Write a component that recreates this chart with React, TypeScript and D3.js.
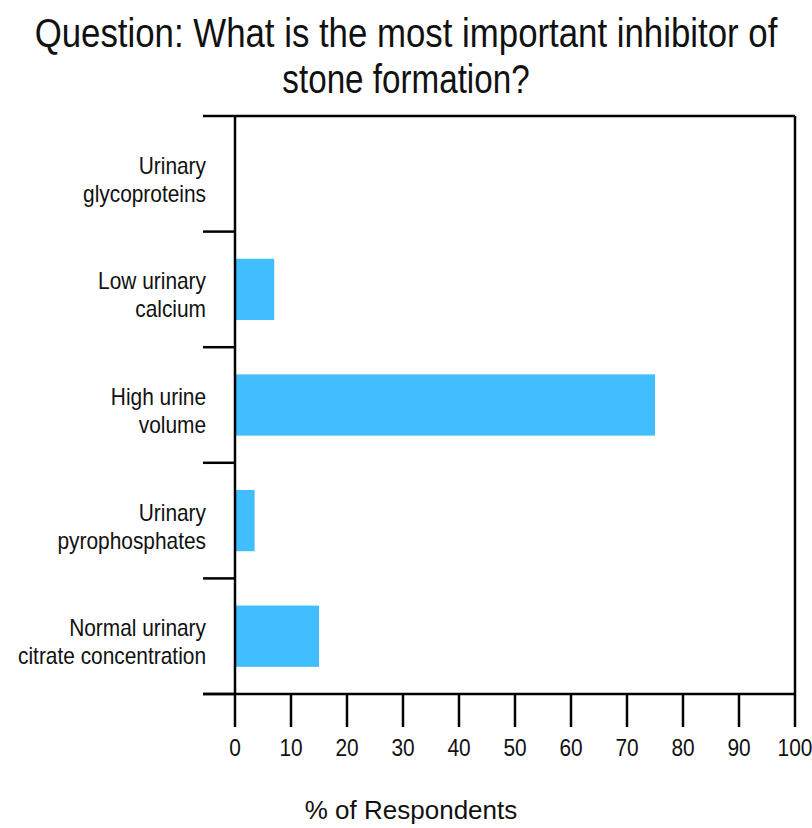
import React from "react";
import * as d3 from "d3";

const titleLines = ["Question: What is the most important inhibitor of", "stone formation?"];
const categories = [
  ["Urinary", "glycoproteins"],
  ["Low urinary", "calcium"],
  ["High urine", "volume"],
  ["Urinary", "pyrophosphates"],
  ["Normal urinary", "citrate concentration"],
];
const values = [0, 7, 75, 3.5, 15];
const xTicks = [0, 10, 20, 30, 40, 50, 60, 70, 80, 90, 100];
const xLabel = "% of Respondents";

const W = 812;
const H = 828;
const margin = { left: 235, right: 17, top: 116, bottom: 134 };
const FONT = "'Liberation Sans', Arial, sans-serif";
const SX = 0.87;
const titleScale = [0.87, 0.83];

function NText({ x, y, sx = SX, size, anchor = "middle", children }: any) {
  return (
    <g transform={`translate(${x},${y}) scale(${sx},1)`}>
      <text x={0} y={0} textAnchor={anchor} fontSize={size} fill="#111">
        {children}
      </text>
    </g>
  );
}

export default function App() {
  const x = d3.scaleLinear().domain([0, 100]).range([margin.left, W - margin.right]);
  const y = d3
    .scaleBand<number>()
    .domain(d3.range(categories.length))
    .range([margin.top, H - margin.bottom])
    .padding(0);
  const step = y.step();
  const barH = step * 0.53;
  const y0 = H - margin.bottom;
  const tickLen = 33;
  const sw = 2.5;

  return (
    <svg
      width={W}
      height={H}
      style={{ position: "absolute", left: 0, top: 0, background: "#fff" }}
      fontFamily={FONT}
    >
      {titleLines.map((t, i) => (
        <NText key={t} x={W / 2} y={47 + i * 46} size={40} sx={titleScale[i]}>
          {t}
        </NText>
      ))}
      {/* bars */}
      {values.map((v, i) => (
        <rect
          key={i}
          x={x(0)}
          y={(y(i) as number) + (step - barH) / 2}
          width={x(v) - x(0)}
          height={barH}
          fill="#41BEFF"
        />
      ))}
      {/* category boundary ticks */}
      {d3.range(categories.length + 1).map((i) => {
        const yy = margin.top + i * step;
        return (
          <line key={i} x1={margin.left - 32} x2={margin.left} y1={yy} y2={yy} stroke="#000" strokeWidth={sw} />
        );
      })}
      {/* frame */}
      <line x1={margin.left} x2={W - margin.right} y1={margin.top} y2={margin.top} stroke="#000" strokeWidth={sw} />
      <line x1={W - margin.right} x2={W - margin.right} y1={margin.top} y2={y0} stroke="#000" strokeWidth={sw} />
      <line x1={margin.left} x2={margin.left} y1={margin.top} y2={y0} stroke="#000" strokeWidth={sw} />
      <line x1={margin.left - 32} x2={W - margin.right} y1={y0} y2={y0} stroke="#000" strokeWidth={sw} />
      {/* category labels */}
      {categories.map((lines, i) => {
        const c = (y(i) as number) + step / 2;
        return (
          <g key={i}>
            {lines.map((l, j) => (
              <NText key={j} x={206} y={c + j * 28} size={24} anchor="end">
                {l}
              </NText>
            ))}
          </g>
        );
      })}
      {/* x ticks */}
      {xTicks.map((t) => (
        <g key={t}>
          <line x1={x(t)} x2={x(t)} y1={y0} y2={y0 + tickLen} stroke="#000" strokeWidth={sw} />
          <NText x={x(t)} y={756} size={24}>
            {String(t)}
          </NText>
        </g>
      ))}
      <NText x={411} y={819} size={26} sx={1.0}>
        {xLabel}
      </NText>
    </svg>
  );
}
